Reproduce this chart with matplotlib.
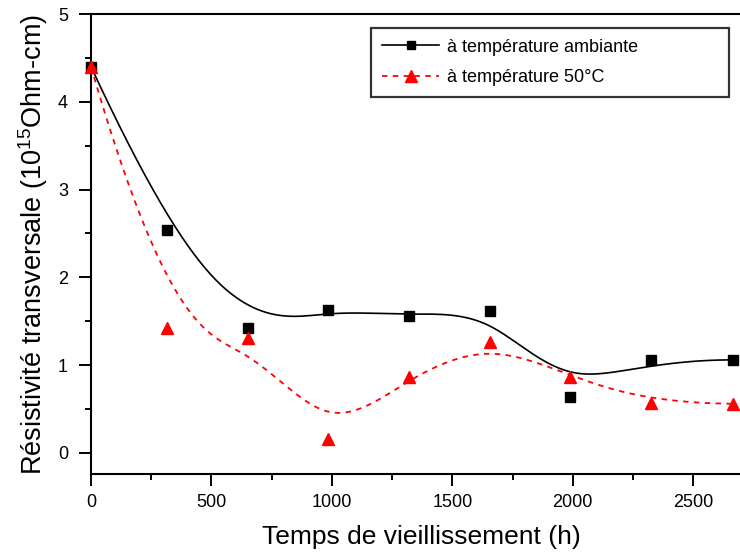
import numpy as np
import matplotlib.pyplot as plt
from matplotlib.ticker import MultipleLocator

plt.rcParams['font.family'] = ['Liberation Sans', 'DejaVu Sans']
plt.rcParams['mathtext.fontset'] = 'custom'
plt.rcParams['mathtext.rm'] = 'Liberation Sans'
plt.rcParams['mathtext.it'] = 'Liberation Sans'

# aging time (h) and transverse resistivity (1e15 Ohm-cm)
temps = [0, 315, 650, 985, 1320, 1655, 1990, 2325, 2665]
rho_ambiante = [4.40, 2.54, 1.42, 1.63, 1.56, 1.62, 0.64, 1.06, 1.06]
rho_50c = [4.40, 1.42, 1.31, 0.16, 0.87, 1.26, 0.87, 0.57, 0.56]

label_amb = "à température ambiante"
label_50 = "à température 50°C"


def bspline(px, py, n_out=400, k=3):
    """Clamped uniform B-spline using the data points as control points."""
    pts = np.column_stack([px, py]).astype(float)
    n = len(pts)
    n_int = n - k - 1
    knots = np.concatenate([np.zeros(k), np.arange(n_int + 2), np.full(k, n_int + 1)]).astype(float)
    t = np.linspace(0, knots[-1], n_out)
    t[-1] -= 1e-9

    def basis(i, d, tt):
        if d == 0:
            return ((knots[i] <= tt) & (tt < knots[i + 1])).astype(float)
        out = np.zeros_like(tt)
        den1 = knots[i + d] - knots[i]
        den2 = knots[i + d + 1] - knots[i + 1]
        if den1 > 0:
            out += (tt - knots[i]) / den1 * basis(i, d - 1, tt)
        if den2 > 0:
            out += (knots[i + d + 1] - tt) / den2 * basis(i + 1, d - 1, tt)
        return out

    curve = np.zeros((len(t), 2))
    for i in range(n):
        curve += basis(i, k, t)[:, None] * pts[i]
    return curve[:, 0], curve[:, 1]


fig = plt.figure(figsize=(7.4, 5.6), dpi=100)
ax = fig.add_axes([91 / 740, 86 / 560, 660 / 740, 460 / 560])

cx, cy = bspline(temps, rho_ambiante)
ax.plot(cx, cy, color='black', linewidth=1.2)
cx, cy = bspline(temps, rho_50c)
ax.plot(cx, cy, color='red', linewidth=1.3, linestyle=(0, (3, 3)))

ax.plot(temps, rho_ambiante, 's', color='black', markersize=6.5, linestyle='none', clip_on=False, zorder=3)
ax.plot(temps, rho_50c, '^', color='red', markersize=8.5, linestyle='none', clip_on=False, zorder=4)

# legend handles
ax.plot([], [], color='black', linewidth=1.2, marker='s', markersize=6, label=label_amb)
ax.plot([], [], color='red', linewidth=1.3, linestyle=(0, (3, 3)), marker='^', markersize=8, label=label_50)
leg = ax.legend(loc='upper left', bbox_to_anchor=(0.424, 0.5, 0.542, 0.4696), mode='expand',
                borderaxespad=0, frameon=True, fancybox=False, edgecolor='black', fontsize=13,
                handlelength=3.2, handletextpad=0.4, borderpad=0.6, labelspacing=0.75)
leg.get_frame().set_linewidth(1.6)

ax.set_xlim(0, 2740)
ax.set_ylim(-0.24, 5)
ax.xaxis.set_major_locator(MultipleLocator(500))
ax.xaxis.set_minor_locator(MultipleLocator(250))
ax.yaxis.set_major_locator(MultipleLocator(1))
ax.yaxis.set_minor_locator(MultipleLocator(0.5))
ax.tick_params(which='major', direction='out', length=8.5, width=1.4, labelsize=13)
ax.tick_params(axis='x', which='major', pad=6)
ax.tick_params(axis='y', which='major', pad=8)
ax.tick_params(which='minor', direction='out', length=4.5, width=1.4)
ax.spines['right'].set_visible(False)
for s in ['left', 'bottom', 'top']:
    ax.spines[s].set_linewidth(1.5)

ax.set_xlabel('Temps de vieillissement (h)', fontsize=19, labelpad=10)
ax.set_ylabel('Résistivité transversale (10$^{15}$Ohm-cm)', fontsize=19.5, labelpad=6)

fig.savefig('out.png', dpi=100)
